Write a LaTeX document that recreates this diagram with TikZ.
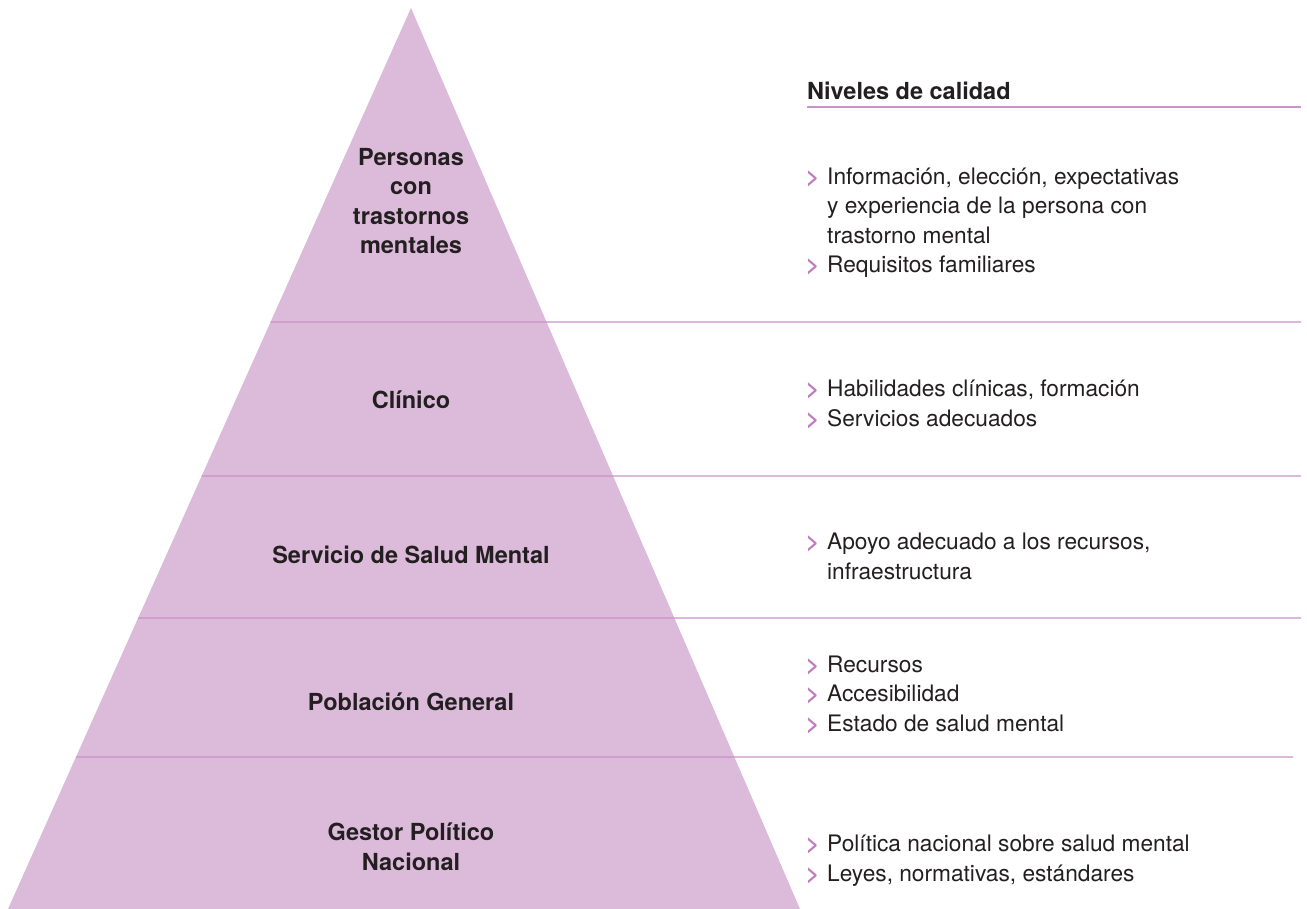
\documentclass[tikz,border=0pt]{standalone}
\usepackage{fontspec}
\setmainfont{TeX Gyre Heros}
\usepackage{xcolor}
\usetikzlibrary{calc, positioning}

\definecolor{pyrfill}{HTML}{DBBADA}
\definecolor{rulecol}{HTML}{C993C8}
\definecolor{bulcol}{HTML}{BF7DBE}
\definecolor{txtcol}{HTML}{231F20}

\newcommand{\bul}{\makebox[21pt][l]{\textcolor{bulcol}{\bfseries >}}}
\newcommand{\ind}{\hspace*{21pt}}

\begin{document}
\begin{tikzpicture}[x=1pt, y=-1pt,
  level/.style={font=\fontsize{23.5}{29.5}\selectfont\bfseries, text=txtcol,
    align=center, inner sep=0pt, anchor=base},
  quality/.style={font=\fontsize{22.7}{29.5}\selectfont, text=txtcol,
    align=left, inner sep=0pt, anchor=base west},
  sepline/.style={draw=rulecol, line width=1.3pt}]
\useasboundingbox (0,0) rectangle (1307,909);

% pyramid
\coordinate (apex) at (411,8);
\coordinate (bl) at (8,909);
\coordinate (br) at (800,909);
\fill[pyrfill] (apex) -- (bl) -- (br) -- cycle;

% separators from the left edge of the pyramid
\foreach \y/\e [count=\i] in {322/1301, 476/1301, 618/1301, 757/1293} {
  \coordinate (sepL\i) at ($(apex)!{(\y-8)/901}!(bl)$);
  \coordinate (sepR\i) at (\e,\y);
  \draw[sepline] (sepL\i) -- (sepR\i);
}

% levels (placed at the baseline of their last line)
\node[level] (personas) at (411,254) {Personas\\con\\trastornos\\mentales};
\node[level] (clinico) at (411,408) {Clínico};
\node[level] (servicio) at (411,563) {Servicio de Salud Mental};
\node[level] (poblacion) at (411,710) {Población General};
\node[level] (gestor) at (411,870) {Gestor Político\\Nacional};

% heading
\node[quality, font=\fontsize{23.5}{29.5}\selectfont\bfseries] (head) at (807,100) {Niveles de calidad};
\coordinate (headL) at (807,107);
\coordinate (headR) at (1301,107);
\draw[sepline] (headL) -- (headR);

% quality criteria
\node[quality] (q1) at (806,273) {\bul Información, elección, expectativas\\
  \ind y experiencia de la persona con\\
  \ind trastorno mental\\
  \bul Requisitos familiares};
\node[quality] (q2) at (806,426) {\bul Habilidades clínicas, formación\\
  \bul Servicios adecuados};
\node[quality] (q3) at (806,579) {\bul Apoyo adecuado a los recursos,\\
  \ind infraestructura};
\node[quality] (q4) at (806,731) {\bul Recursos\\
  \bul Accesibilidad\\
  \bul Estado de salud mental};
\node[quality] (q5) at (806,881) {\bul Política nacional sobre salud mental\\
  \bul Leyes, normativas, estándares};
\end{tikzpicture}
\end{document}
